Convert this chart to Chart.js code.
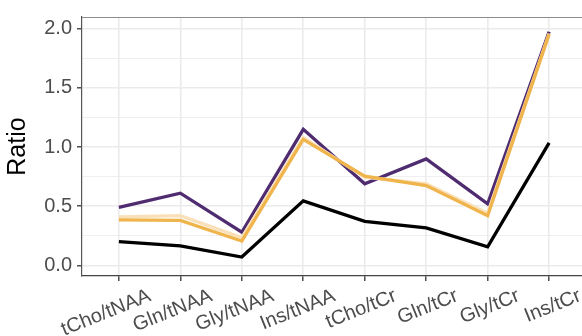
<!DOCTYPE html>
<html>
<head>
<meta charset="utf-8">
<script src="https://cdn.jsdelivr.net/npm/chart.js@4/dist/chart.umd.min.js"></script>
<style>
  html, body { margin: 0; padding: 0; background: #fff; overflow: hidden; }
  #wrap { width: 582px; height: 336px; overflow: hidden; position: relative; }
  #box { width: 600px; height: 336px; }
</style>
</head>
<body>
<div id="wrap"><div id="box"><canvas id="c"></canvas></div></div>
<script>
// Metabolite ratios
const categories = ['tCho/tNAA', 'Gln/tNAA', 'Gly/tNAA', 'Ins/tNAA', 'tCho/tCr', 'Gln/tCr', 'Gly/tCr', 'Ins/tCr'];
const ratioPurple = [0.49, 0.61, 0.28, 1.15, 0.69, 0.90, 0.52, 1.975];
const ratioOrange = [0.385, 0.38, 0.205, 1.065, 0.755, 0.675, 0.42, 1.955];
const ratioPeach  = [0.41, 0.42, 0.235, 1.08, 0.745, 0.69, 0.44, 1.96];
const ratioBlack  = [0.20, 0.165, 0.07, 0.545, 0.372, 0.317, 0.157, 1.035];
const yTicks = [0.0, 0.5, 1.0, 1.5, 2.0];

const FONT = '"Liberation Sans", Arial, Helvetica, sans-serif';
const isMajor = v => yTicks.some(t => Math.abs(t - v) < 1e-6);
const toPoints = arr => arr.map((v, i) => ({ x: i, y: v }));

const lineDs = (label, data, color, order) => ({
  label, data: toPoints(data), borderColor: color, backgroundColor: color,
  borderWidth: 3.3, pointRadius: 0, tension: 0, borderJoinStyle: 'miter', order
});

// top edge of the panel frame
const panelTop = {
  id: 'panelTop',
  afterDraw(chart) {
    const { ctx, chartArea: a } = chart;
    ctx.save();
    ctx.strokeStyle = '#8c8c8c';
    ctx.lineWidth = 1.2;
    ctx.beginPath();
    ctx.moveTo(a.left, a.top + 0.5);
    ctx.lineTo(a.right, a.top + 0.5);
    ctx.stroke();
    ctx.restore();
  }
};

new Chart(document.getElementById('c'), {
  type: 'line',
  data: {
    datasets: [
      lineDs('orange', ratioOrange, '#f0b44c', 0),
      lineDs('peach', ratioPeach, '#f9e0b8', 1),
      lineDs('purple', ratioPurple, '#4f2b6f', 2),
      lineDs('black', ratioBlack, '#000000', 3)
    ]
  },
  options: {
    responsive: true,
    maintainAspectRatio: false,
    animation: false,
    events: [],
    layout: { padding: { top: 11, right: 14, bottom: 0, left: 0 } },
    plugins: { legend: { display: false }, tooltip: { enabled: false } },
    scales: {
      x: {
        type: 'linear',
        min: -0.6,
        max: 7.6,
        afterFit: s => { s.height = 60; },
        border: { display: true, color: '#444', width: 1.2 },
        grid: { color: '#ebebeb', lineWidth: 1.6, tickColor: '#333', tickLength: 5, tickWidth: 1.3 },
        ticks: {
          stepSize: 1,
          includeBounds: false,
          autoSkip: false,
          minRotation: 22,
          maxRotation: 22,
          labelOffset: 31,
          padding: 3,
          color: '#4d4d4d',
          font: { family: FONT, size: 20 },
          callback: v => categories[v] ?? ''
        }
      },
      y: {
        min: -0.09,
        max: 2.1,
        afterFit: s => { s.width = 82; },
        border: { display: true, color: '#555', width: 1.2 },
        grid: {
          color: '#ebebeb',
          lineWidth: c => isMajor(c.tick.value) ? 1.6 : 0.8,
          tickColor: c => isMajor(c.tick.value) ? '#333' : 'rgba(0,0,0,0)',
          tickLength: 5,
          tickWidth: 1.3
        },
        ticks: {
          stepSize: 0.25,
          includeBounds: false,
          autoSkip: false,
          padding: 5,
          color: '#4d4d4d',
          font: { family: FONT, size: 20 },
          callback: v => isMajor(v) ? v.toFixed(1) : ''
        },
        title: {
          display: true,
          text: 'Ratio',
          color: '#000',
          font: { family: FONT, size: 25 },
          padding: { top: 3, bottom: 0 }
        }
      }
    }
  },
  plugins: [panelTop]
});
</script>
</body>
</html>
